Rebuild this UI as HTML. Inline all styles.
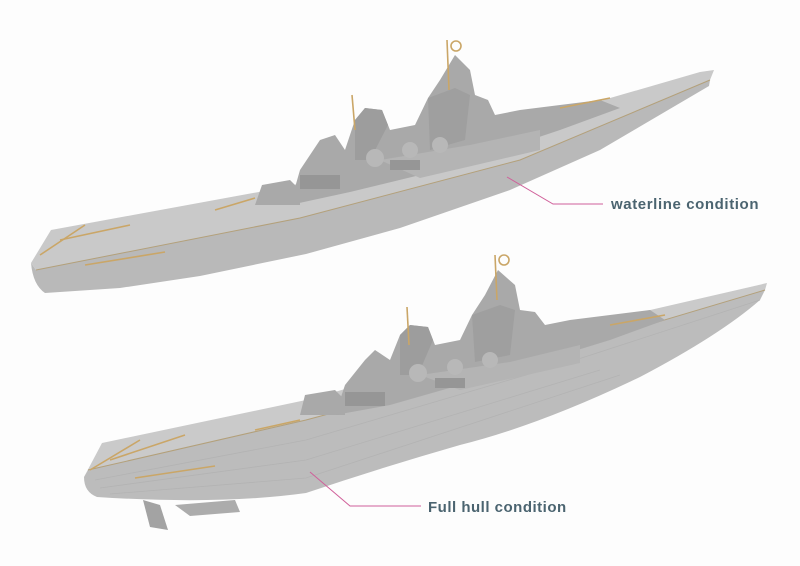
<!DOCTYPE html>
<html><head><style>
html,body{margin:0;padding:0;background:#fdfdfd;}
svg{display:block}
text{font-family:"Liberation Sans",sans-serif;font-weight:bold;fill:#4b6470;}
</style></head><body>
<svg width="800" height="566" viewBox="0 0 800 566" xmlns="http://www.w3.org/2000/svg">
<rect width="800" height="566" fill="#fdfdfd"/>
<!-- TOP SHIP -->
<path d="M31,263 L36,270 L300,218 L520,160 L710,80 L709,86 L600,150 L510,190 L400,228 L306,254 L200,276 L120,288 L45,293 Q33,285 31,263 Z" fill="#b9b9b9"/>
<path d="M31,263 L51,230 L133,215 L286,187 L500,130 L700,72 L714,70 L710,80 L520,160 L300,218 L36,270 Z" fill="#c9c9c9"/>
<path d="M36,270 L300,218 L520,160 L710,80" fill="none" stroke="#b3a07a" stroke-width="1"/>
<g fill="#a9a9a9">
<path d="M255,205 L262,185 L290,180 L300,190 L300,205 Z"/>
<path d="M290,205 L300,170 L320,140 L335,135 L345,150 L355,120 L365,108 L382,110 L390,130 L415,125 L428,98 L440,80 L455,55 L470,70 L475,95 L488,100 L495,115 L520,110 L560,105 L600,100 L620,108 L560,130 L500,150 L420,175 L350,192 Z"/>
<path d="M355,120 L365,108 L382,110 L388,125 L370,160 L355,160 Z" fill="#9d9d9d"/>
<path d="M428,98 L455,88 L470,95 L465,140 L430,150 Z" fill="#9f9f9f"/>
<path d="M380,160 L470,145 L540,130 L540,150 L420,178 Z" fill="#b4b4b4"/>
<circle cx="375" cy="158" r="9" fill="#b8b8b8"/><circle cx="410" cy="150" r="8" fill="#b8b8b8"/><circle cx="440" cy="145" r="8" fill="#b8b8b8"/>
<rect x="300" y="175" width="40" height="14" fill="#969696"/><rect x="390" y="160" width="30" height="10" fill="#969696"/>
</g>
<g stroke="#caa667" stroke-width="1.6" fill="none">
<path d="M40,255 L85,225"/><path d="M60,240 L130,225"/><path d="M85,265 L165,252"/><path d="M215,210 L255,198"/><path d="M560,108 L610,98"/><path d="M447,40 L449,90"/><path d="M352,95 L355,130"/><circle cx="456" cy="46" r="5"/>
</g>
<!-- BOTTOM SHIP -->
<path d="M143,500 L160,505 L168,530 L150,527 Z" fill="#a3a3a3"/>
<path d="M175,505 L235,500 L240,512 L190,516 Z" fill="#acacac"/>
<path d="M84,477 L88,470 L306,420 L530,360 L765,290 L760,300 Q720,335 640,377 Q540,425 460,445 Q380,468 306,493 Q220,505 97,497 Q84,492 84,477 Z" fill="#bcbcbc"/>
<path d="M84,477 L102,443 L306,400 L520,340 L750,287 L767,283 L765,290 L530,360 L306,420 L88,470 Z" fill="#cacaca"/>
<path d="M88,470 L306,420 L530,360 L765,290" fill="none" stroke="#b3a07a" stroke-width="1"/>
<g stroke="#b3b3b3" stroke-width="0.8" fill="none">
<path d="M95,480 L306,440 L560,365 L760,300"/><path d="M100,488 L306,460 L600,370"/><path d="M110,494 L306,478 L620,375"/>
</g>
<g fill="#a9a9a9">
<path d="M300,415 L305,395 L335,390 L345,400 L345,415 Z"/>
<path d="M335,415 L345,385 L365,360 L375,350 L390,360 L400,335 L410,325 L428,327 L435,345 L460,340 L472,315 L485,295 L498,270 L515,285 L520,310 L535,312 L545,325 L570,320 L610,315 L650,310 L665,320 L610,340 L545,360 L460,385 L390,405 Z"/>
<path d="M400,335 L410,325 L428,327 L433,340 L418,375 L400,375 Z" fill="#9d9d9d"/>
<path d="M472,315 L500,305 L515,310 L510,355 L475,362 Z" fill="#9f9f9f"/>
<path d="M420,375 L510,362 L580,345 L580,363 L460,390 Z" fill="#b4b4b4"/>
<circle cx="418" cy="373" r="9" fill="#b8b8b8"/><circle cx="455" cy="367" r="8" fill="#b8b8b8"/><circle cx="490" cy="360" r="8" fill="#b8b8b8"/>
<rect x="345" y="392" width="40" height="14" fill="#969696"/><rect x="435" y="378" width="30" height="10" fill="#969696"/>
</g>
<g stroke="#caa667" stroke-width="1.6" fill="none">
<path d="M90,470 L140,440"/><path d="M110,460 L185,435"/><path d="M135,478 L215,466"/><path d="M255,430 L300,420"/><path d="M610,325 L665,315"/><path d="M495,255 L497,300"/><path d="M407,307 L409,345"/><circle cx="504" cy="260" r="5"/>
</g>
<polyline points="507,177 553,204 603,204" fill="none" stroke="#d0609a" stroke-width="1"/>
<text x="611" y="209" font-size="15" letter-spacing="0.6">waterline  condition</text>
<polyline points="310,472 350,506 421,506" fill="none" stroke="#d0609a" stroke-width="1"/>
<text x="428" y="512" font-size="15" letter-spacing="0.5">Full hull condition</text>
</svg>
</body></html>
